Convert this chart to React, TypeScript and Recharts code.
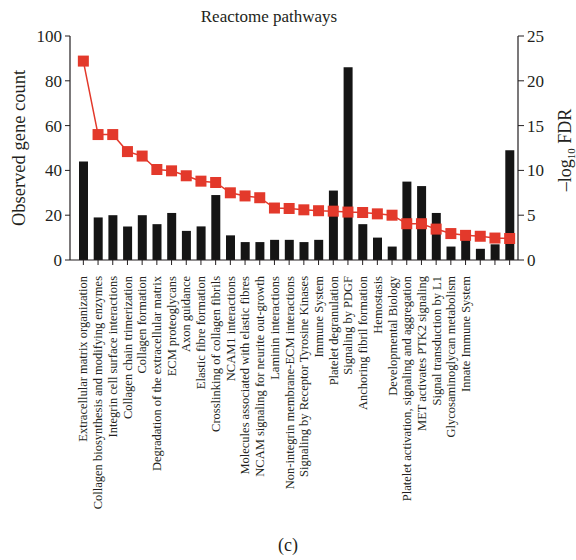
import { ComposedChart, Bar, Line, XAxis, YAxis } from "recharts";

document.body.style.margin = "0";

const FONT = "'Liberation Serif', 'Times New Roman', serif";
const INK = "#231f20";
const RED = "#e3392b";

// 27 printed pathway names (the figure prints fewer names than bars)
const pathways = [
  "Extracellular matrix organization",
  "Collagen biosynthesis and modifying enzymes",
  "Integrin cell surface interactions",
  "Collagen chain trimerization",
  "Collagen formation",
  "Degradation of the extracellular matrix",
  "ECM proteoglycans",
  "Axon guidance",
  "Elastic fibre formation",
  "Crosslinking of collagen fibrils",
  "NCAM1 interactions",
  "Molecules associated with elastic fibres",
  "NCAM signaling for neurite out-growth",
  "Laminin interactions",
  "Non-integrin membrane-ECM interactions",
  "Signaling by Receptor Tyrosine Kinases",
  "Immune System",
  "Platelet degranulation",
  "Signaling by PDGF",
  "Anchoring fibril formation",
  "Hemostasis",
  "Developmental Biology",
  "Platelet activation, signaling and aggregation",
  "MET activates PTK2 signaling",
  "Signal transduction by L1",
  "Glycosaminoglycan metabolism",
  "Innate Immune System",
];

const geneCount = [44, 19, 20, 15, 20, 16, 21, 13, 15, 29, 11, 8, 8, 9, 9, 8, 9, 31, 86, 16, 10, 6, 35, 33, 21, 6, 9, 5, 7, 49];
const negLogFdr = [
  22.2, 14.0, 14.0, 12.1, 11.6, 10.1, 9.95, 9.4, 8.8, 8.65, 7.5, 7.15, 6.95, 5.8, 5.75,
  5.6, 5.5, 5.45, 5.35, 5.3, 5.15, 5.0, 4.05, 4.05, 3.45, 2.95, 2.75, 2.65, 2.45, 2.4,
];

const leftTicks = [0, 20, 40, 60, 80, 100];
const rightTicks = [0, 5, 10, 15, 20, 25];

const rows = geneCount.map((v, i) => ({ i, count: v, fdr: negLogFdr[i] }));
const labelTicks = pathways.map((_, i) => i);

const PathwayTick = ({ x, y, payload }: any) => (
  <text
    x={x}
    y={y}
    transform={`rotate(-90, ${x}, ${y})`}
    textAnchor="end"
    dy="0.35em"
    fontSize={12.5}
    fontFamily={FONT}
    fill={INK}
  >
    {pathways[payload.value]}
  </text>
);

const SquareDot = ({ cx, cy }: any) => (
  <rect x={cx - 5.5} y={cy - 5.5} width={11} height={11} fill={RED} />
);

const tickStyle = { fontSize: 17, fill: INK, fontFamily: FONT };

export default function App() {
  return (
    <div style={{ position: "relative", width: 576, height: 560, fontFamily: FONT, color: INK }}>
      <div style={{ position: "absolute", left: 0, top: 8, width: 538, textAlign: "center", fontSize: 17, lineHeight: "17px" }}>
        Reactome pathways
      </div>
      <ComposedChart width={576} height={560} data={rows} margin={{ top: 36, right: 0, left: 0, bottom: 0 }}>
        <XAxis
          xAxisId="bars"
          dataKey="i"
          type="category"
          height={6}
          interval={0}
          padding={{ left: 6, right: 1 }}
          tickSize={5}
          tick={() => null}
          axisLine={{ stroke: INK, strokeWidth: 1.2 }}
          tickLine={{ stroke: INK }}
        />
        <XAxis
          xAxisId="names"
          type="number"
          domain={[0, pathways.length - 1]}
          allowDataOverflow
          ticks={labelTicks}
          interval={0}
          height={294}
          padding={{ left: 13, right: 8 }}
          axisLine={false}
          tickLine={false}
          tickMargin={4}
          tick={<PathwayTick />}
        />
        <YAxis
          yAxisId="left"
          domain={[0, 100]}
          ticks={leftTicks}
          width={70}
          tickSize={5}
          tickMargin={3}
          tick={tickStyle}
          axisLine={{ stroke: INK, strokeWidth: 1.2 }}
          tickLine={{ stroke: INK }}
          label={{
            content: () => (
              <text x={25} y={148} transform="rotate(-90, 25, 148)" textAnchor="middle" fontSize={18.5} fontFamily={FONT} fill={INK}>
                Observed gene count
              </text>
            ),
          }}
        />
        <YAxis
          yAxisId="right"
          orientation="right"
          domain={[0, 25]}
          ticks={rightTicks}
          width={58}
          tickSize={6}
          tickMargin={3}
          tick={tickStyle}
          axisLine={{ stroke: INK, strokeWidth: 1.2 }}
          tickLine={{ stroke: INK }}
          label={{
            content: () => (
              <text x={571} y={150} transform="rotate(-90, 571, 150)" textAnchor="middle" fontSize={18} fontFamily={FONT} fill={INK}>
                –log
                <tspan fontSize={11} dy={4}>10</tspan>
                <tspan dy={-4}> FDR</tspan>
              </text>
            ),
          }}
        />
        <Bar xAxisId="bars" yAxisId="left" dataKey="count" fill="#151515" barSize={9} isAnimationActive={false} />
        <Line
          xAxisId="bars"
          yAxisId="right"
          dataKey="fdr"
          stroke={RED}
          strokeWidth={1.5}
          dot={<SquareDot />}
          activeDot={false}
          isAnimationActive={false}
        />
      </ComposedChart>
      <div style={{ position: "absolute", left: 0, top: 536, width: 576, textAlign: "center", fontSize: 18, lineHeight: "18px" }}>
        <span style={{ position: "relative", left: 0 }}>(c)</span>
      </div>
    </div>
  );
}
